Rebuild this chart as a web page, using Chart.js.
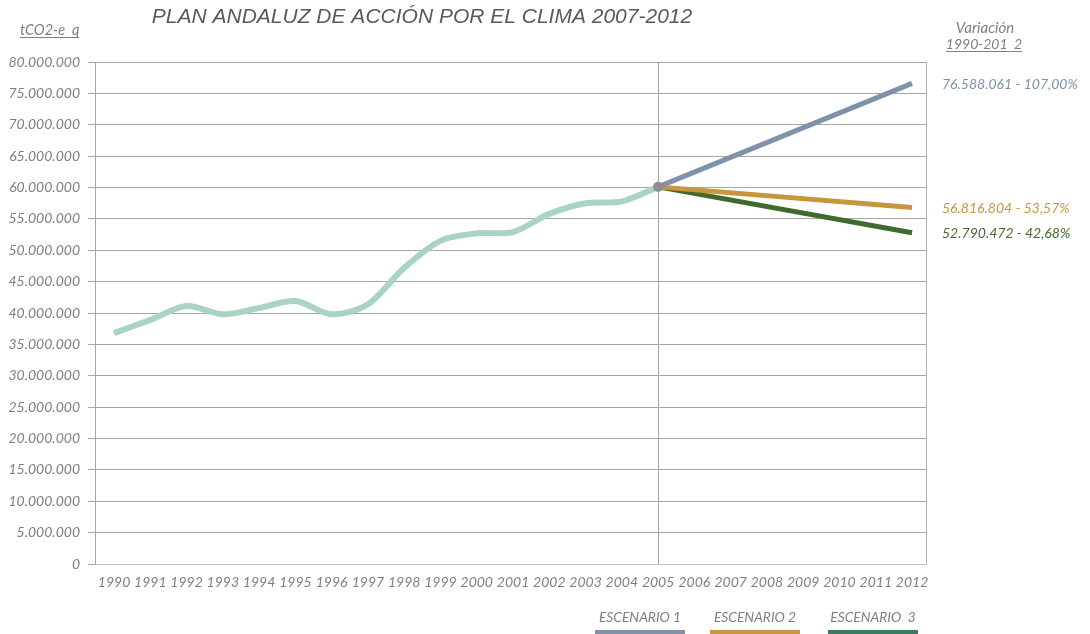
<!DOCTYPE html>
<html>
<head>
<meta charset="utf-8">
<script src="https://cdn.jsdelivr.net/npm/chart.js@4"></script>
<style>
  html, body { margin: 0; padding: 0; background: #fff; }
  #wrap { position: relative; width: 1090px; height: 634px; }
</style>
</head>
<body>
<div id="wrap"><canvas id="grafico" width="1090" height="634"></canvas></div>
<script>
// datos
var anios = [1990,1991,1992,1993,1994,1995,1996,1997,1998,1999,2000,2001,2002,2003,2004,2005,2006,2007,2008,2009,2010,2011,2012];
var aniosHist = [1990,1991,1992,1993,1994,1995,1996,1997,1998,1999,2000,2001,2002,2003,2004,2005];
var emisiones = [36800000,38900000,41100000,39800000,40800000,41900000,39800000,41400000,47200000,51500000,52700000,52900000,55800000,57500000,57800000,60100000];
var aniosEsc = [2005, 2012];
var escenario1 = [60100000, 76588061];
var escenario2 = [60100000, 56816804];
var escenario3 = [60100000, 52790472];
var etiquetasFin = ["76.588.061 - 107,00%", "56.816.804 - 53,57%", "52.790.472 - 42,68%"];
var nombresEsc = ["ESCENARIO 1", "ESCENARIO 2", "ESCENARIO  3"];

var colorHist = "#a9d4c1";
var colores = ["#7f93a8", "#c8963e", "#3e6b2c"];
var coloresLeyenda = ["#7f93a8", "#c8963e", "#3b7a5e"];
var gris = "#7f7f7f";
var fuente = "Lato, 'Open Sans', sans-serif";

function pares(xs, ys) {
	var out = [];
	for (var i in xs) out.push({x: xs[i], y: ys[i]});
	return out;
}

function puntos(n) {
	var s = String(Math.round(n));
	return s.replace(/\B(?=(\d{3})+(?!\d))/g, ".");
}

var ultimo = aniosHist.length - 1;

var textos = {
	id: "textos",
	afterDraw: function(chart) {
		var ctx = chart.ctx;
		var area = chart.chartArea;
		var ys = chart.scales.y;
		ctx.save();

		// borde derecho
		ctx.strokeStyle = "#b4b4b4";
		ctx.lineWidth = 1;
		ctx.beginPath();
		ctx.moveTo(Math.round(area.right) + 0.5, area.top);
		ctx.lineTo(Math.round(area.right) + 0.5, area.bottom);
		ctx.stroke();

		// titulo
		ctx.fillStyle = "#595959";
		ctx.font = "italic 21px 'Liberation Sans', Arial, sans-serif";
		ctx.textAlign = "center";
		ctx.textBaseline = "middle";
		ctx.fillText("PLAN ANDALUZ DE ACCIÓN POR EL CLIMA 2007-2012", 422, 17);

		// unidad
		ctx.fillStyle = gris;
		ctx.font = "italic 14.5px " + fuente;
		ctx.textAlign = "left";
		ctx.fillText("tCO2-e  q", 20, 30);
		var w = ctx.measureText("tCO2-e  q").width;
		ctx.fillRect(20, 37, w, 1);

		// variacion
		ctx.textAlign = "center";
		ctx.font = "italic 15px " + fuente;
		ctx.fillText("Variación", 985, 28);
		ctx.font = "italic 14px " + fuente;
		ctx.fillText("1990-201  2", 984, 44);
		w = ctx.measureText("1990-201  2").width;
		ctx.fillRect(984 - w / 2, 51, w, 1);

		// valores finales
		var finales = [escenario1, escenario2, escenario3];
		ctx.font = "italic 14px " + fuente;
		ctx.textAlign = "left";
		for (var i = 0; i < 3; i++) {
			var v = finales[i][finales[i].length - 1];
			ctx.fillStyle = colores[i];
			ctx.fillText(etiquetasFin[i], 942, ys.getPixelForValue(v) + 1);
		}

		// leyenda
		var centros = [640, 755, 873];
		ctx.font = "italic 13.8px " + fuente;
		ctx.textAlign = "center";
		for (var j = 0; j < 3; j++) {
			ctx.fillStyle = gris;
			ctx.fillText(nombresEsc[j], centros[j], 618);
			ctx.fillStyle = coloresLeyenda[j];
			ctx.fillRect(centros[j] - 45, 630, 90, 4);
		}
		ctx.restore();
	}
};

var chartdata = {
	datasets: [
		{
			label: "Histórico",
			data: pares(aniosHist, emisiones),
			borderColor: colorHist,
			borderWidth: 6,
			tension: 0.3,
			fill: false,
			borderCapStyle: "butt",
			pointRadius: function(c) { return c.dataIndex === ultimo ? 5 : 0; },
			pointBackgroundColor: "#8c8c8c",
			pointBorderWidth: 0
		},
		{
			label: nombresEsc[0],
			data: pares(aniosEsc, escenario1),
			borderColor: colores[0],
			borderWidth: 5,
			pointRadius: 0,
			fill: false
		},
		{
			label: nombresEsc[1],
			data: pares(aniosEsc, escenario2),
			borderColor: colores[1],
			borderWidth: 5,
			pointRadius: 0,
			fill: false
		},
		{
			label: nombresEsc[2],
			data: pares(aniosEsc, escenario3),
			borderColor: colores[2],
			borderWidth: 5,
			pointRadius: 0,
			fill: false
		}
	]
};

var ctx = document.getElementById("grafico");

var grafico = new Chart(ctx, {
	type: "line",
	data: chartdata,
	plugins: [textos],
	options: {
		responsive: false,
		animation: false,
		layout: { padding: { top: 62, right: 164, bottom: 0, left: 0 } },
		plugins: {
			legend: { display: false },
			title: { display: false },
			tooltip: { enabled: false }
		},
		scales: {
			x: {
				type: "linear",
				min: 1989.476,
				max: 2012.385,
				afterBuildTicks: function(scale) {
					scale.ticks = anios.map(function(a) { return {value: a}; });
				},
				afterFit: function(scale) { scale.height = 70; },
				border: { display: true, color: "#c4c4c4", width: 1 },
				grid: {
					drawTicks: false,
					color: function(c) { return c.tick && c.tick.value === 2005 ? "#a6a6a6" : "rgba(0,0,0,0)"; }
				},
				ticks: {
					padding: 10,
					maxRotation: 0,
					autoSkip: false,
					color: gris,
					font: { family: fuente, size: 14, style: "italic" },
					callback: function(v) { return String(v); }
				}
			},
			y: {
				min: 0,
				max: 80000000,
				afterFit: function(scale) { scale.width = 95; },
				border: { display: true, color: "#a6a6a6", width: 1 },
				grid: { color: "#a6a6a6", tickLength: 7 },
				ticks: {
					stepSize: 5000000,
					padding: 8,
					color: gris,
					font: { family: fuente, size: 14, style: "italic" },
					callback: function(v) { return puntos(v); }
				}
			}
		}
	}
});
</script>
</body>
</html>
